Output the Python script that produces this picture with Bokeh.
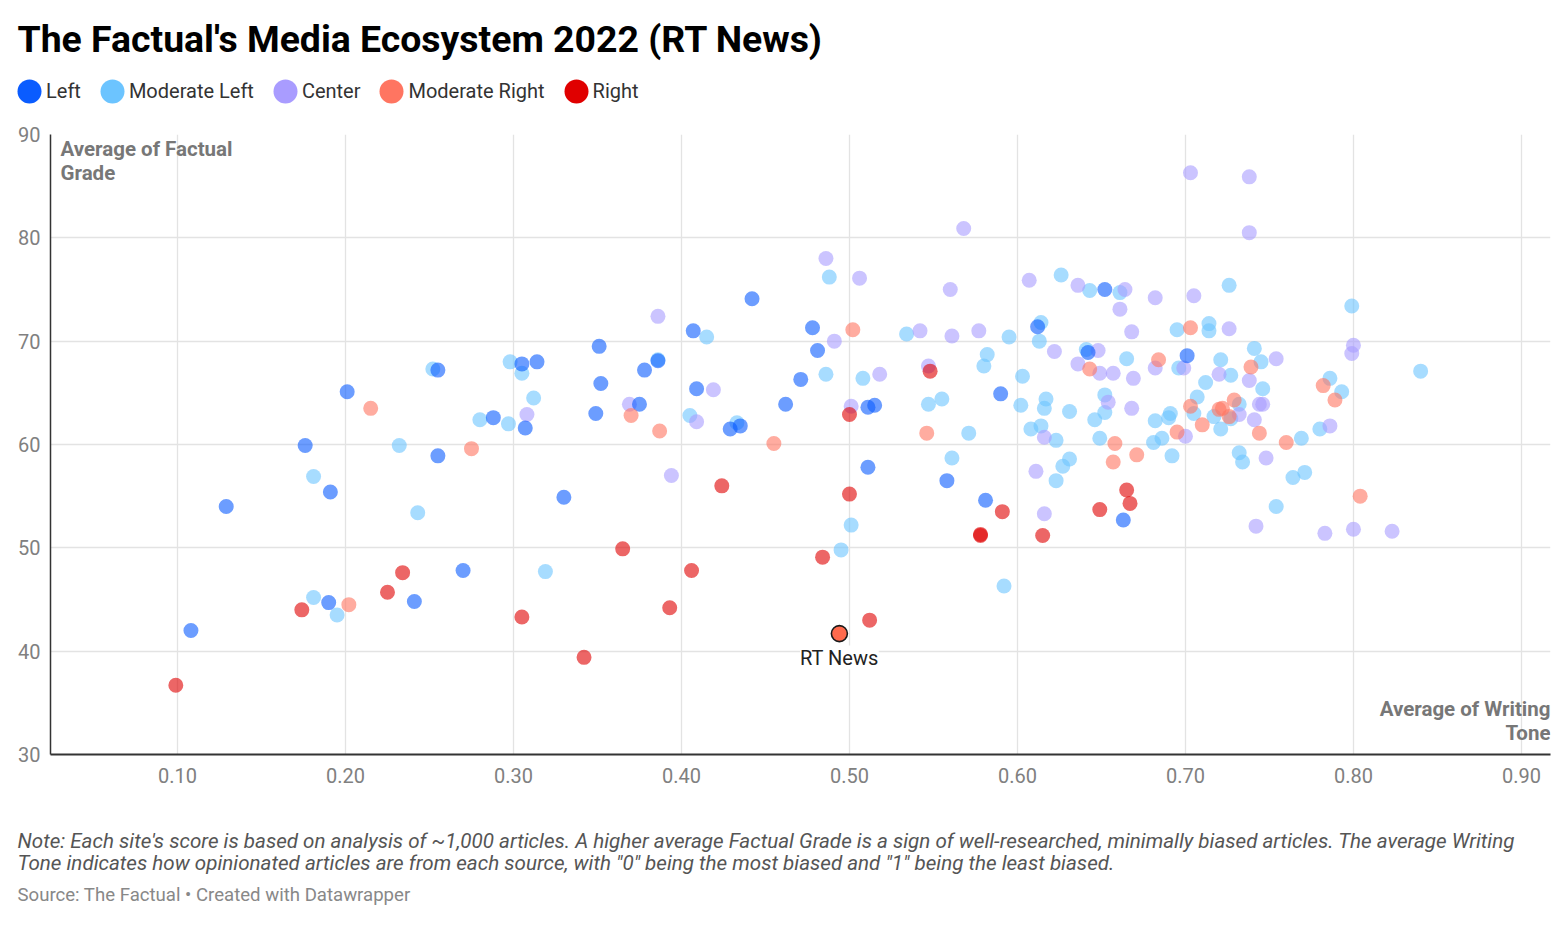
from bokeh.plotting import figure
from bokeh.layouts import column
from bokeh.models import (ColumnDataSource, Label, Legend, LegendItem, FixedTicker,
                          NumeralTickFormatter, Range1d)
from bokeh.embed import file_html
from bokeh.resources import INLINE

TITLE = "The Factual's Media Ecosystem 2022 (RT News)"
Y_TITLE = "Average of Factual\nGrade"
X_TITLE = "Average of Writing\nTone"
NOTE = ("Note: Each site's score is based on analysis of ~1,000 articles. A higher average Factual Grade is a sign of "
        "well-researched, minimally biased articles. The average Writing\nTone indicates how opinionated articles are "
        "from each source, with \"0\" being the most biased and \"1\" being the least biased.")
SOURCE = "Source: The Factual \u2022 Created with Datawrapper"

categories = ["Left", "Moderate Left", "Center", "Moderate Right", "Right"]
colors = ["#0a5cff", "#6cc4ff", "#a99cff", "#ff7561", "#e00000"]

x_ticks = [0.1, 0.2, 0.3, 0.4, 0.5, 0.6, 0.7, 0.8, 0.9]
y_ticks = [30, 40, 50, 60, 70, 80, 90]

left_tone = [0.108, 0.129, 0.176, 0.190, 0.191, 0.201, 0.241, 0.255, 0.255, 0.270,
             0.288, 0.305, 0.307, 0.314, 0.330, 0.351, 0.352, 0.349, 0.375, 0.378,
             0.386, 0.407, 0.409, 0.429, 0.435, 0.442, 0.462, 0.471, 0.478, 0.481,
             0.511, 0.515, 0.511, 0.558, 0.581, 0.590, 0.612, 0.642, 0.652, 0.663, 0.701]
left_grade = [42.0, 54.0, 59.9, 44.7, 55.4, 65.1, 44.8, 67.2, 58.9, 47.8,
              62.6, 67.8, 61.6, 68.0, 54.9, 69.5, 65.9, 63.0, 63.9, 67.2,
              68.1, 71.0, 65.4, 61.5, 61.8, 74.1, 63.9, 66.3, 71.3, 69.1,
              63.6, 63.8, 57.8, 56.5, 54.6, 64.9, 71.4, 68.9, 75.0, 52.7, 68.6]

modleft_tone = [0.181, 0.181, 0.195, 0.232, 0.243, 0.252, 0.280, 0.297, 0.298, 0.305,
                0.312, 0.319, 0.386, 0.405, 0.415, 0.433, 0.486, 0.488, 0.495, 0.501,
                0.508, 0.534, 0.547, 0.555, 0.561, 0.571, 0.580, 0.582, 0.592, 0.595,
                0.602, 0.603, 0.608, 0.614, 0.613, 0.614, 0.616, 0.617, 0.623, 0.623,
                0.626, 0.627, 0.631, 0.631, 0.641, 0.643, 0.646, 0.649, 0.652, 0.652,
                0.661, 0.665, 0.681, 0.682, 0.686, 0.690, 0.691, 0.692, 0.695, 0.696,
                0.705, 0.707, 0.712, 0.714, 0.714, 0.717, 0.721, 0.721, 0.726, 0.727,
                0.732, 0.732, 0.734, 0.741, 0.745, 0.746, 0.754, 0.764, 0.769, 0.771,
                0.780, 0.786, 0.793, 0.799, 0.840, 0.727]
modleft_grade = [56.9, 45.2, 43.5, 59.9, 53.4, 67.3, 62.4, 62.0, 68.0, 66.9,
                 64.5, 47.7, 68.2, 62.8, 70.4, 62.1, 66.8, 76.2, 49.8, 52.2,
                 66.4, 70.7, 63.9, 64.4, 58.7, 61.1, 67.6, 68.7, 46.3, 70.4,
                 63.8, 66.6, 61.5, 71.8, 70.0, 61.8, 63.5, 64.4, 60.4, 56.5,
                 76.4, 57.9, 58.6, 63.2, 69.2, 74.9, 62.4, 60.6, 64.8, 63.1,
                 74.7, 68.3, 60.2, 62.3, 60.6, 62.6, 63.0, 58.9, 71.1, 67.4,
                 63.0, 64.6, 66.0, 71.7, 71.0, 62.7, 61.5, 68.2, 75.4, 66.7,
                 63.9, 59.2, 58.3, 69.3, 68.0, 65.4, 54.0, 56.8, 60.6, 57.3,
                 61.5, 66.4, 65.1, 73.4, 67.1, 62.5]

center_tone = [0.308, 0.369, 0.386, 0.394, 0.409, 0.419, 0.486, 0.491, 0.501, 0.506,
               0.518, 0.542, 0.547, 0.560, 0.561, 0.568, 0.577, 0.607, 0.611, 0.616,
               0.616, 0.622, 0.636, 0.636, 0.648, 0.649, 0.654, 0.657, 0.661, 0.664,
               0.668, 0.668, 0.669, 0.682, 0.682, 0.699, 0.700, 0.703, 0.705, 0.720,
               0.726, 0.732, 0.738, 0.738, 0.738, 0.741, 0.742, 0.744, 0.746, 0.748,
               0.754, 0.783, 0.786, 0.799, 0.800, 0.800, 0.823]
center_grade = [62.9, 63.9, 72.4, 57.0, 62.2, 65.3, 78.0, 70.0, 63.7, 76.1,
                66.8, 71.0, 67.6, 75.0, 70.5, 80.9, 71.0, 75.9, 57.4, 60.7,
                53.3, 69.0, 75.4, 67.8, 69.1, 66.9, 64.1, 66.9, 73.1, 75.0,
                70.9, 63.5, 66.4, 74.2, 67.4, 67.4, 60.8, 86.3, 74.4, 66.8,
                71.2, 62.9, 85.9, 80.5, 66.2, 62.4, 52.1, 63.9, 63.9, 58.7,
                68.3, 51.4, 61.8, 68.8, 69.6, 51.8, 51.6]

modright_tone = [0.215, 0.202, 0.275, 0.370, 0.387, 0.455, 0.502, 0.546, 0.643, 0.684,
                 0.703, 0.703, 0.720, 0.722, 0.729, 0.726, 0.710, 0.744, 0.760, 0.782,
                 0.789, 0.739, 0.658, 0.671, 0.695, 0.657, 0.804]
modright_grade = [63.5, 44.5, 59.6, 62.8, 61.3, 60.1, 71.1, 61.1, 67.3, 68.2,
                  71.3, 63.7, 63.4, 63.5, 64.3, 62.7, 61.9, 61.1, 60.2, 65.7,
                  64.3, 67.5, 60.1, 59.0, 61.2, 58.3, 55.0]

right_tone = [0.099, 0.174, 0.225, 0.234, 0.305, 0.342, 0.365, 0.393, 0.406, 0.424,
              0.484, 0.500, 0.512, 0.500, 0.548, 0.578, 0.578, 0.591, 0.615, 0.649,
              0.665, 0.667]
right_grade = [36.7, 44.0, 45.7, 47.6, 43.3, 39.4, 49.9, 44.2, 47.8, 56.0,
               49.1, 55.2, 43.0, 62.9, 67.1, 51.2, 51.3, 53.5, 51.2, 53.7,
               55.6, 54.3]

highlight_name = "RT News"
highlight_tone = [0.494]
highlight_grade = [41.7]
highlight_color = "#ff6a4d"

FONT = "Roboto"
W = 1560
HEAD_H = 110
MAIN_H = 700
FOOT_H = 120
NAN = float("nan")


def blank_fig(h):
    f = figure(width=W, height=h, output_backend="svg", toolbar_location=None,
               x_range=Range1d(0, W), y_range=Range1d(0, h),
               x_axis_type=None, y_axis_type=None,
               min_border_left=0, min_border_right=0, min_border_top=0, min_border_bottom=0,
               outline_line_color=None, background_fill_color="white", border_fill_color="white")
    f.frame_align = False
    f.xgrid.visible = False
    f.ygrid.visible = False
    return f


# ---------------- header: title + legend ----------------
head = blank_fig(HEAD_H)
head.add_layout(Label(x=17, y=HEAD_H - 38, x_units="screen", y_units="screen", text=TITLE,
                      text_font=FONT, text_font_size="37.4px", text_font_style="bold",
                      text_color="#000000", text_baseline="middle", text_align="left"))
items = []
for name, c in zip(categories, colors):
    r = head.ellipse(x=[NAN], y=[NAN], width=24, height=24, width_units="screen", height_units="screen",
                     fill_color=c, line_color=None)
    items.append(LegendItem(label=name, renderers=[r]))
legend = Legend(items=items, orientation="horizontal", location=(14, (HEAD_H - 91) - 15),
                glyph_width=30, glyph_height=30, label_standoff=2, spacing=16,
                padding=0, margin=0, border_line_color=None, background_fill_alpha=0,
                label_text_font=FONT, label_text_font_size="20px", label_text_color="#333333")
head.add_layout(legend, "center")

# ---------------- main scatter ----------------
p = figure(width=W, height=MAIN_H, output_backend="svg", toolbar_location=None,
           x_range=Range1d(0.0244, 0.9173), y_range=Range1d(30, 90),
           min_border_left=50, min_border_right=W - 1550, min_border_top=134 - HEAD_H,
           min_border_bottom=(HEAD_H + MAIN_H) - 754,
           outline_line_color=None, background_fill_color="white", border_fill_color="white")
p.frame_align = False

p.xgrid.ticker = FixedTicker(ticks=x_ticks)
p.ygrid.ticker = FixedTicker(ticks=y_ticks)
for g in (p.xgrid, p.ygrid):
    g.grid_line_color = "#e3e3e3"
    g.grid_line_width = 1.3

p.xaxis.ticker = FixedTicker(ticks=x_ticks)
p.yaxis.ticker = FixedTicker(ticks=y_ticks)
p.xaxis.formatter = NumeralTickFormatter(format="0.00")
for ax in (p.xaxis, p.yaxis):
    ax.major_tick_line_color = None
    ax.minor_tick_line_color = None
    ax.major_tick_in = 0
    ax.major_tick_out = 0
    ax.major_label_text_font = FONT
    ax.major_label_text_font_size = "20px"
    ax.major_label_text_color = "#808080"
    ax.axis_line_color = "#333333"
p.xaxis.axis_line_width = 2
p.yaxis.axis_line_width = 1.5
p.xaxis.major_label_standoff = 13
p.yaxis.major_label_standoff = 10

series = [
    ("Moderate Left", modleft_tone, modleft_grade, colors[1]),
    ("Center", center_tone, center_grade, colors[2]),
    ("Left", left_tone, left_grade, colors[0]),
    ("Moderate Right", modright_tone, modright_grade, colors[3]),
    ("Right", right_tone, right_grade, colors[4]),
]
for name, xs, ys, c in series:
    src = ColumnDataSource(dict(x=xs, y=ys))
    p.scatter("x", "y", source=src, size=15, fill_color=c, fill_alpha=0.6, line_color=None)

hsrc = ColumnDataSource(dict(x=highlight_tone, y=highlight_grade))
p.scatter("x", "y", source=hsrc, size=16, fill_color=highlight_color, line_color="#1a1a1a", line_width=1.6)
p.add_layout(Label(x=highlight_tone[0], y=highlight_grade[0], text=highlight_name, text_align="center",
                   text_baseline="middle", y_offset=-24, text_font=FONT, text_font_size="20px",
                   text_color="#222222", background_fill_color="white", background_fill_alpha=1.0))

p.add_layout(Label(x=10, y=618, x_units="screen", y_units="screen", text=Y_TITLE,
                   text_font=FONT, text_font_size="20.5px", text_font_style="bold",
                   text_color="#777777", text_baseline="top", text_align="left", text_line_height=1.0))
p.add_layout(Label(x=1500, y=10, x_units="screen", y_units="screen", text=X_TITLE,
                   text_font=FONT, text_font_size="20.5px", text_font_style="bold",
                   text_color="#777777", text_baseline="bottom", text_align="right", text_line_height=1.0))

# ---------------- footer: note + source ----------------
foot = blank_fig(FOOT_H)
top0 = HEAD_H + MAIN_H
foot.add_layout(Label(x=17, y=FOOT_H - (828 - top0), x_units="screen", y_units="screen", text=NOTE,
                      text_font=FONT, text_font_size="20.6px", text_font_style="italic",
                      text_color="#555555", text_baseline="top", text_align="left", text_line_height=0.95))
foot.add_layout(Label(x=17, y=FOOT_H - (894 - top0), x_units="screen", y_units="screen", text=SOURCE,
                      text_font=FONT, text_font_size="18.6px",
                      text_color="#888888", text_baseline="middle", text_align="left"))

layout = column(head, p, foot, spacing=0)
open("out.html", "w").write(file_html(layout, INLINE))
